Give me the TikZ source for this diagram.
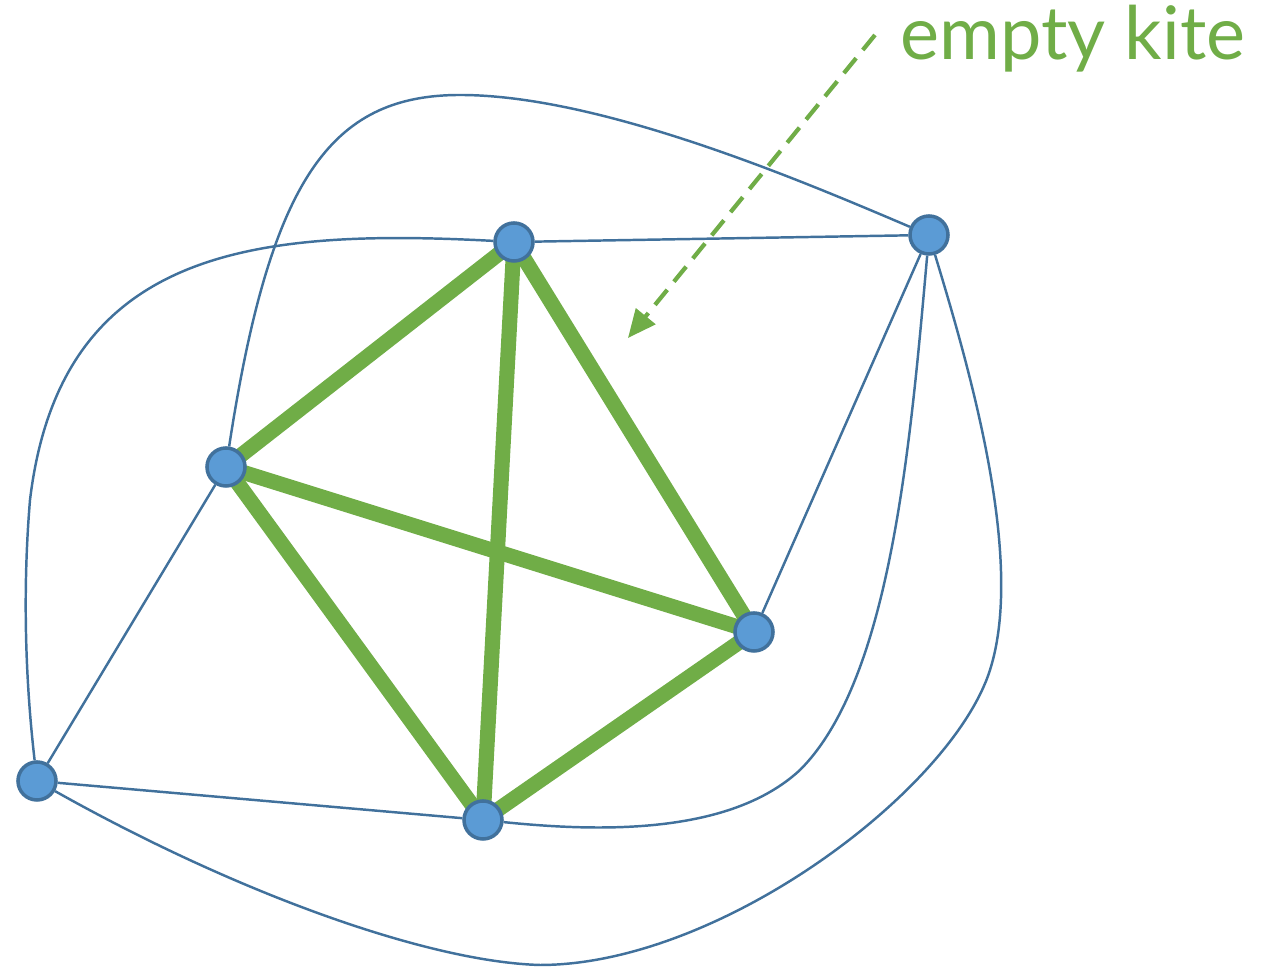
\documentclass[tikz,border=0pt]{standalone}
\usepackage{fontspec}
\setmainfont{Lato}
\usetikzlibrary{arrows.meta, backgrounds}
\definecolor{vfill}{HTML}{5B9BD5}
\definecolor{vline}{HTML}{41719C}
\definecolor{kgreen}{HTML}{70AD47}

\begin{document}
\begin{tikzpicture}[x=0.01cm, y=-0.01cm,
        vert/.style={circle, draw=vline, fill=vfill, line width=1pt, minimum size=0.38cm, inner sep=0pt},
        thin/.style={draw=vline, line width=0.7pt},
        kite/.style={draw=kgreen, line width=4.3pt}]

        \useasboundingbox (0,0) rectangle (1275,968);

        % Knoten
        \node[vert] (a) at (514,242) {};
        \node[vert] (b) at (929,235) {};
        \node[vert] (c) at (226,467) {};
        \node[vert] (d) at (754,632) {};
        \node[vert] (e) at (37,781) {};
        \node[vert] (f) at (483,820) {};

        \begin{scope}[on background layer]
        % Gerade Kanten
        \draw[thin] (a) -- (b);
        \draw[thin] (b) -- (d);
        \draw[thin] (c) -- (e);
        \draw[thin] (e) -- (f);

        % Gebogene Kanten
        \draw[thin] (c) .. controls (270,180) and (330,95) .. (460,95)
            .. controls (600,95) and (800,180) .. (b);
        \draw[thin] (a) .. controls (250,228) and (60,250) .. (30,500)
            .. controls (20,620) and (30,720) .. (e);
        \draw[thin] (b) .. controls (910,450) and (890,680) .. (800,770)
            .. controls (730,835) and (600,832) .. (f);
        \draw[thin] (b) .. controls (970,370) and (1025,560) .. (990,670)
            .. controls (952,790) and (720,965) .. (540,965)
            .. controls (430,962) and (240,895) .. (e);

        % Drachen (K4)
        \draw[kite] (a.center) -- (c.center);
        \draw[kite] (a.center) -- (d.center);
        \draw[kite] (a.center) -- (f.center);
        \draw[kite] (c.center) -- (d.center);
        \draw[kite] (c.center) -- (f.center);
        \draw[kite] (d.center) -- (f.center);
        \end{scope}

        % Beschriftung
        \node[font=\fontsize{21}{24}\selectfont, text=kgreen, anchor=base west, inner sep=0pt] (lbl) at (900,60) {empty kite};
        \coordinate (tip) at (628,338);
        \draw[kgreen, line width=1.2pt, dash pattern=on 5.5pt off 3pt, -{Triangle[length=8pt, width=7pt]}] (875,35) -- (tip);
    \end{tikzpicture}
\end{document}
